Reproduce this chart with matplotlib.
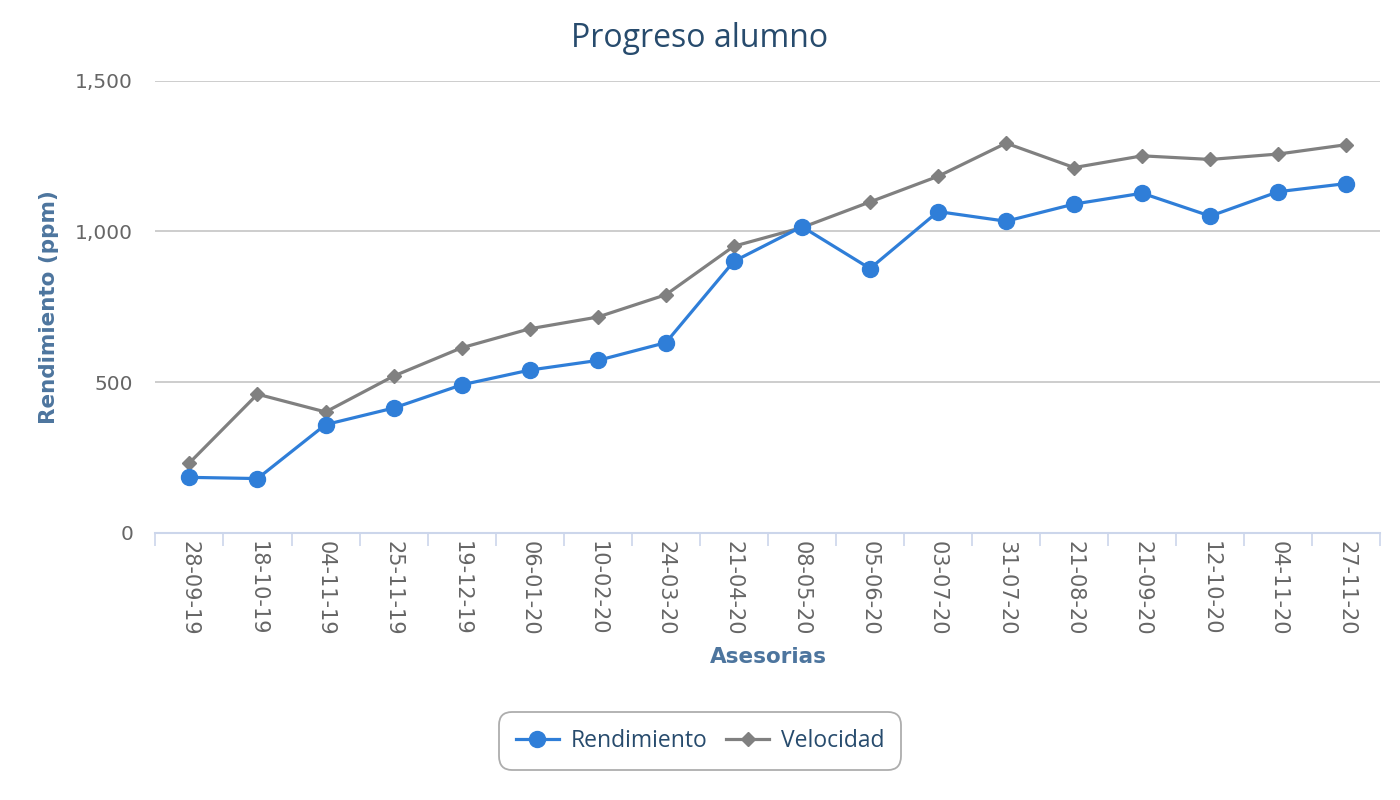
"""Progreso alumno: rendimiento y velocidad por asesoria."""

import matplotlib.pyplot as plt


fechas = [
    "28-09-19", "18-10-19", "04-11-19", "25-11-19", "19-12-19", "06-01-20",
    "10-02-20", "24-03-20", "21-04-20", "08-05-20", "05-06-20", "03-07-20",
    "31-07-20", "21-08-20", "21-09-20", "12-10-20", "04-11-20", "27-11-20",
]
rendimiento = [
    184, 180, 359, 414, 491, 540, 572, 631, 901,
    1016, 877, 1066, 1034, 1091, 1127, 1051, 1132, 1159,
]
velocidad = [
    232, 460, 401, 520, 614, 677, 716, 790, 951,
    1013, 1098, 1183, 1293, 1212, 1251, 1239, 1257, 1288,
]
y_ticks = [0, 500, 1000, 1500]

BLUE = "#2f7ed8"
GRAY = "#808080"
TITLE_COLOR = "#274b6d"
AXIS_TITLE_COLOR = "#4d759e"
LABEL_COLOR = "#666666"


def main() -> None:
    fig = plt.figure(figsize=(14, 8), dpi=100)
    ax = fig.add_axes([0.111, 0.334, 0.875, 0.565])

    x = list(range(len(fechas)))
    (l_rend,) = ax.plot(
        x, rendimiento, "-o", color=BLUE, linewidth=2.3,
        markersize=11.5, zorder=3, label="Rendimiento",
    )
    (l_vel,) = ax.plot(
        x, velocidad, "-D", color=GRAY, linewidth=2.3,
        markersize=7.5, zorder=2, label="Velocidad",
    )

    ax.set_xlim(-0.5, len(fechas) - 0.5)
    ax.set_ylim(0, 1500)
    ax.set_yticks(y_ticks)
    ax.set_yticklabels([f"{v:,}" for v in y_ticks])
    ax.grid(axis="y", color="#c0c0c0", linewidth=1.1)
    ax.set_axisbelow(True)

    ax.set_xticks(x)
    ax.set_xticklabels(fechas, rotation=270, fontsize=15, color=LABEL_COLOR)
    ax.set_xticks([i - 0.5 for i in range(len(fechas) + 1)], minor=True)
    ax.tick_params(axis="x", which="major", length=0, pad=6)
    ax.tick_params(axis="x", which="minor", length=9, width=1.2, color="#ccd6eb")
    ax.tick_params(axis="y", length=0, labelsize=14.5, labelcolor=LABEL_COLOR, pad=16)

    for side in ("top", "right", "left"):
        ax.spines[side].set_visible(False)
    ax.spines["bottom"].set_color("#ccd6eb")
    ax.spines["bottom"].set_linewidth(1.5)

    ax.set_ylabel("Rendimiento (ppm)", fontsize=15.5, fontweight="bold",
                  color=AXIS_TITLE_COLOR, labelpad=12)
    ax.set_xlabel("Asesorias", fontsize=15.5, fontweight="bold",
                  color=AXIS_TITLE_COLOR, labelpad=8)

    fig.text(0.5, 0.952, "Progreso alumno", ha="center", va="center",
             fontsize=23, color=TITLE_COLOR, family="Open Sans")

    leg = fig.legend(
        handles=[l_rend, l_vel], loc="center", bbox_to_anchor=(0.5, 0.074),
        ncol=2, frameon=True, handlelength=1.9,
        columnspacing=0.8, handletextpad=0.5, borderpad=0.75,
        prop={"family": "Open Sans", "size": 16.5},
    )
    for text in leg.get_texts():
        text.set_color(TITLE_COLOR)
    frame = leg.get_frame()
    frame.set_edgecolor("#999999")
    frame.set_linewidth(1.3)
    frame.set_boxstyle("round,pad=0,rounding_size=0.6")

    fig.savefig("out.png", dpi=100)
    plt.close(fig)


if __name__ == "__main__":
    main()
